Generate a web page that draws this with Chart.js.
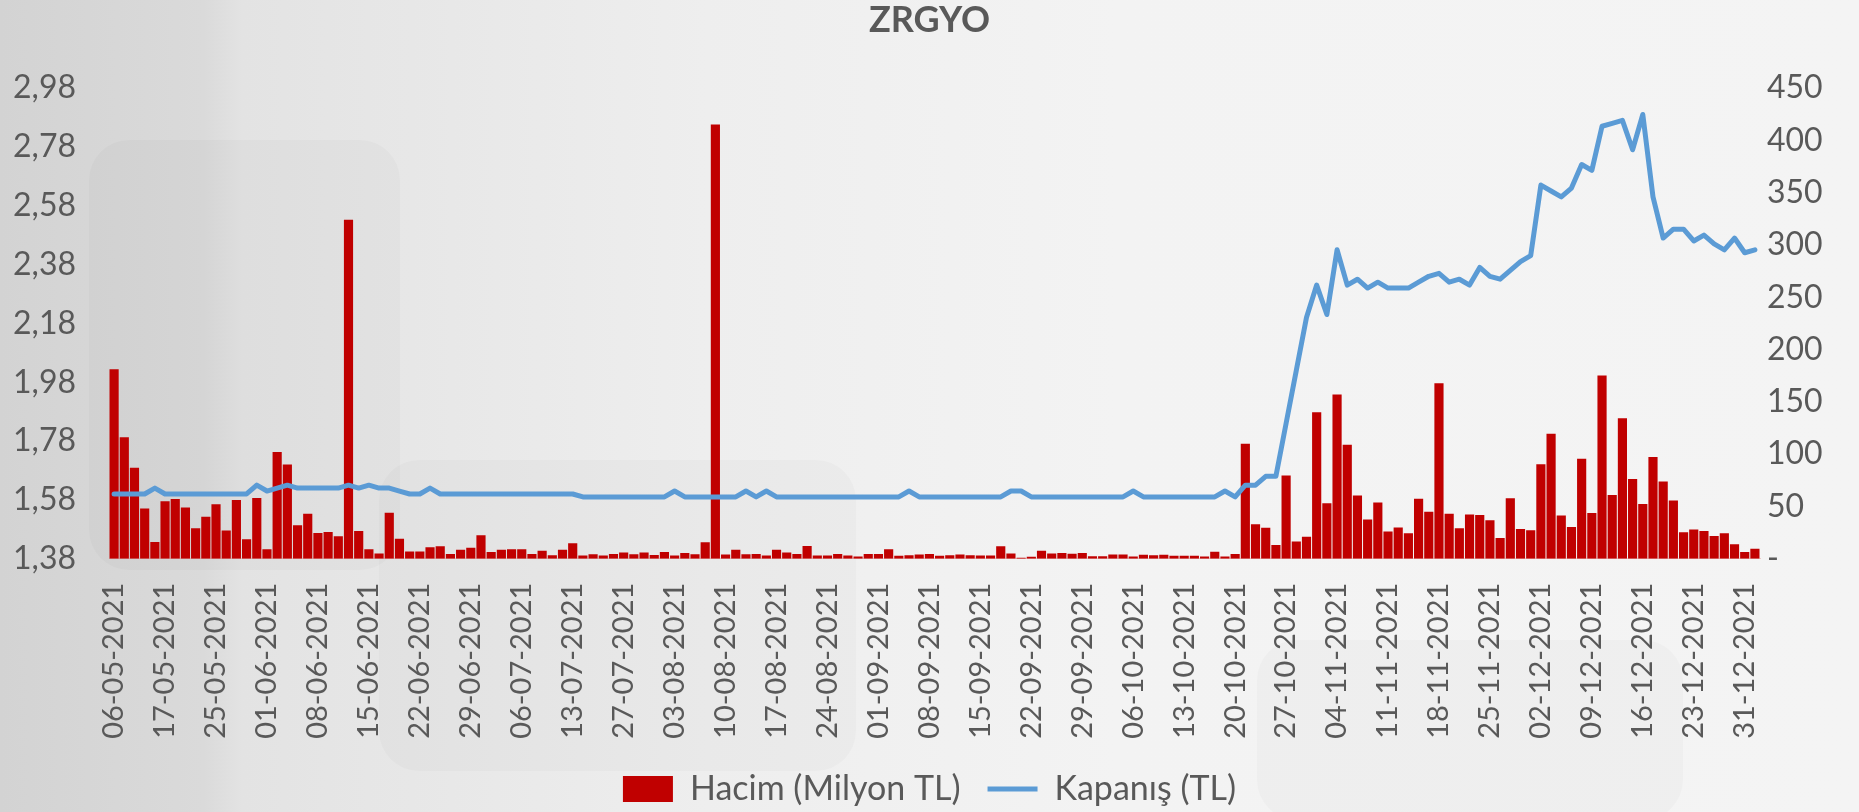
<!DOCTYPE html>
<html>
<head>
<meta charset="utf-8">
<script src="https://cdn.jsdelivr.net/npm/chart.js@4/dist/chart.umd.min.js"></script>
<style>
  html, body { margin: 0; padding: 0; }
  #wrap { width: 1859px; height: 812px; position: relative; }
</style>
</head>
<body>
<div id="wrap"><canvas id="zrgyoChart"></canvas></div>
<script>
// trading days (dd-mm-2021)
const dates = [].concat(
    '06 07 10 11 12 17 18 20 21 24 25 26 27 28 31'.split(' ').map(d => d + '-05-2021'),
    '01 02 03 04 07 08 09 10 11 14 15 16 17 18 21 22 23 24 25 28 29 30'.split(' ').map(d => d + '-06-2021'),
    '01 02 05 06 07 08 09 12 13 14 16 19 26 27 28 29 30'.split(' ').map(d => d + '-07-2021'),
    '02 03 04 05 06 09 10 11 12 13 16 17 18 19 20 23 24 25 26 27 31'.split(' ').map(d => d + '-08-2021'),
    '01 02 03 06 07 08 09 10 13 14 15 16 17 20 21 22 23 24 27 28 29 30'.split(' ').map(d => d + '-09-2021'),
    '01 04 05 06 07 08 11 12 13 14 15 18 19 20 21 22 25 26 27 28'.split(' ').map(d => d + '-10-2021'),
    '01 02 03 04 05 08 09 10 11 12 15 16 17 18 19 22 23 24 25 26 29 30'.split(' ').map(d => d + '-11-2021'),
    '01 02 03 06 07 08 09 10 13 14 15 16 17 20 21 22 23 24 27 28 29 30 31'.split(' ').map(d => d + '-12-2021')
);

// x labels as printed on the chart (every 5th day)
const tickLabels = ['06-05-2021', '17-05-2021', '25-05-2021', '01-06-2021', '08-06-2021', '15-06-2021',
    '22-06-2021', '29-06-2021', '06-07-2021', '13-07-2021', '27-07-2021', '03-08-2021', '10-08-2021',
    '17-08-2021', '24-08-2021', '01-09-2021', '08-09-2021', '15-09-2021', '22-09-2021', '29-09-2021',
    '06-10-2021', '13-10-2021', '20-10-2021', '27-10-2021', '04-11-2021', '11-11-2021', '18-11-2021',
    '25-11-2021', '02-12-2021', '09-12-2021', '16-12-2021', '23-12-2021', '31-12-2021'];

// Hacim (Milyon TL) - right axis
const volume = [
    181, 116, 87, 48, 16, 55, 57, 49, 29, 40,
    52, 27, 56, 18.5, 58, 9, 102, 90, 32, 43,
    24.5, 25.5, 21.5, 324, 26.5, 9, 5, 44, 19, 7,
    7, 11, 12, 4.5, 8.5, 10.5, 22.5, 6.5, 8.5, 9,
    9, 4.5, 7.5, 3.2, 8.5, 14.7, 3, 4.2, 3, 4.5,
    6, 4.2, 6, 3.5, 6.5, 3, 5.5, 4.2, 15.7, 415,
    4, 8.5, 4.2, 4.5, 3, 8.5, 6, 4.5, 12.2, 3,
    3, 4.4, 3, 2.1, 4.4, 4.4, 9, 2.8, 3.4, 4,
    4.4, 2.8, 3.4, 4, 3.4, 3, 3, 11.8, 5, 1,
    1.8, 7.5, 5, 5.4, 4.7, 5.4, 2.4, 2.4, 4, 4,
    2, 3.7, 3.4, 3.7, 2.8, 2.8, 2.8, 2, 6.7, 2,
    4.5, 110, 33, 29.5, 13.2, 79.5, 16.5, 21, 140, 53,
    157, 109, 60.5, 37.5, 53.7, 26, 29.8, 24.4, 57.2, 45,
    167.8, 43, 29.2, 42.2, 41.8, 36.8, 19.9, 57.8, 28.5, 27.2,
    90.4, 119.4, 41.3, 30.4, 95.5, 43.8, 175.1, 60.8, 134.3, 76.3,
    52.4, 97.3, 73.8, 55.7, 25.4, 27.9, 26.6, 21.6, 24.4, 13.8,
    6.5, 9.4
];

// Kapanış (TL) - left axis
const close = [
    1.60, 1.60, 1.60, 1.60, 1.62, 1.60, 1.60, 1.60, 1.60, 1.60,
    1.60, 1.60, 1.60, 1.60, 1.63, 1.61, 1.62, 1.63, 1.62, 1.62,
    1.62, 1.62, 1.62, 1.63, 1.62, 1.63, 1.62, 1.62, 1.61, 1.60,
    1.60, 1.62, 1.60, 1.60, 1.60, 1.60, 1.60, 1.60, 1.60, 1.60,
    1.60, 1.60, 1.60, 1.60, 1.60, 1.60, 1.59, 1.59, 1.59, 1.59,
    1.59, 1.59, 1.59, 1.59, 1.59, 1.61, 1.59, 1.59, 1.59, 1.59,
    1.59, 1.59, 1.61, 1.59, 1.61, 1.59, 1.59, 1.59, 1.59, 1.59,
    1.59, 1.59, 1.59, 1.59, 1.59, 1.59, 1.59, 1.59, 1.61, 1.59,
    1.59, 1.59, 1.59, 1.59, 1.59, 1.59, 1.59, 1.59, 1.61, 1.61,
    1.59, 1.59, 1.59, 1.59, 1.59, 1.59, 1.59, 1.59, 1.59, 1.59,
    1.61, 1.59, 1.59, 1.59, 1.59, 1.59, 1.59, 1.59, 1.59, 1.61,
    1.59, 1.63, 1.63, 1.66, 1.66, 1.84, 2.02, 2.20, 2.31, 2.21,
    2.43, 2.31, 2.33, 2.30, 2.32, 2.30, 2.30, 2.30, 2.32, 2.34,
    2.35, 2.32, 2.33, 2.31, 2.37, 2.34, 2.33, 2.36, 2.39, 2.41,
    2.65, 2.63, 2.61, 2.64, 2.72, 2.70, 2.85, 2.86, 2.87, 2.77,
    2.89, 2.61, 2.47, 2.50, 2.50, 2.46, 2.48, 2.45, 2.43, 2.47,
    2.42, 2.43
];

const leftTicks = [1.38, 1.58, 1.78, 1.98, 2.18, 2.38, 2.58, 2.78, 2.98];
const rightTicks = [0, 50, 100, 150, 200, 250, 300, 350, 400, 450];

const textColor = '#595959';
const tickFont = { family: 'Lato', size: 32 };
const dateFont = { family: 'Lato', size: 29 };
const padBottom = -4;

// grey slide background with a few soft panels
const backdrop = {
    id: 'backdrop',
    beforeDraw(chart) {
        const { ctx, width, height } = chart;
        ctx.save();
        const g = ctx.createLinearGradient(0, 0, width, 0);
        g.addColorStop(0, '#d3d3d3');
        g.addColorStop(0.11, '#dadada');
        g.addColorStop(0.13, '#e3e3e3');
        g.addColorStop(0.38, '#eeeeee');
        g.addColorStop(0.6, '#f3f3f3');
        g.addColorStop(1, '#f4f4f4');
        ctx.fillStyle = g;
        ctx.fillRect(0, 0, width, height);
        ctx.fillStyle = 'rgba(0,0,0,0.02)';
        [[89, 140, 311, 430], [379, 460, 477, 311], [1257, 640, 426, 180]].forEach(([x, y, w, h]) => {
            ctx.beginPath();
            ctx.roundRect(x, y, w, h, 40);
            ctx.fill();
        });
        ctx.restore();
    }
};

const ctx = document.getElementById('zrgyoChart').getContext('2d');
new Chart(ctx, {
    data: {
        labels: dates,
        datasets: [{
            type: 'bar',
            label: 'Hacim (Milyon TL)',
            data: volume,
            yAxisID: 'y1',
            backgroundColor: '#c00000',
            borderWidth: 0,
            barPercentage: 0.9,
            categoryPercentage: 1,
            order: 2,
        }, {
            type: 'line',
            label: 'Kapanış (TL)',
            data: close,
            yAxisID: 'y',
            borderColor: '#5b9bd5',
            backgroundColor: '#5b9bd5',
            borderWidth: 5,
            pointRadius: 0,
            tension: 0,
            borderJoinStyle: 'round',
            borderCapStyle: 'round',
            order: 1,
        }],
    },
    options: {
        responsive: true,
        maintainAspectRatio: false,
        animation: false,
        layout: { padding: { top: 0, left: 0, right: 0, bottom: padBottom } },
        plugins: {
            title: {
                display: true,
                text: 'ZRGYO',
                color: textColor,
                font: { family: 'Lato', size: 36, weight: 'bold', lineHeight: 1 },
                padding: { top: 2, bottom: 50 },
            },
            legend: {
                position: 'bottom',
                labels: {
                    usePointStyle: true,
                    pointStyleWidth: 50,
                    boxHeight: 26,
                    padding: 27,
                    color: textColor,
                    font: { family: 'Lato', size: 34 },
                    generateLabels: chart => chart.data.datasets.map((ds, i) => ({
                        text: ds.label,
                        datasetIndex: i,
                        fontColor: textColor,
                        fillStyle: ds.backgroundColor,
                        strokeStyle: i === 0 ? ds.backgroundColor : ds.borderColor,
                        lineWidth: i === 0 ? 0 : 5,
                        pointStyle: i === 0 ? 'rect' : 'line',
                        hidden: false,
                    })),
                },
            },
            tooltip: { enabled: false },
        },
        scales: {
            x: {
                offset: true,
                grid: { display: false, drawTicks: false },
                border: { display: true, color: 'rgba(215,120,120,0.35)', dash: [8, 3], width: 1 },
                ticks: {
                    autoSkip: false,
                    minRotation: 90,
                    maxRotation: 90,
                    padding: 24,
                    color: textColor,
                    font: dateFont,
                    callback: (v, i) => (i % 5 === 0 ? tickLabels[i / 5] : null),
                },
                afterFit: s => { s.height = 812 - padBottom - 558.7 - (s.chart.legend ? s.chart.legend.height : 57); },
            },
            y: {
                position: 'left',
                min: 1.38,
                max: 2.98,
                grid: { display: false, drawTicks: false },
                border: { display: false },
                ticks: {
                    padding: 33,
                    color: textColor,
                    font: tickFont,
                    callback: v => v.toFixed(2).replace('.', ','),
                },
                afterBuildTicks: s => { s.ticks = leftTicks.map(v => ({ value: v })); },
                afterFit: s => { s.width = 109; },
            },
            y1: {
                position: 'right',
                min: 0,
                max: 450,
                grid: { display: false, drawTicks: false },
                border: { display: false },
                ticks: {
                    padding: 7,
                    color: textColor,
                    font: tickFont,
                    callback: v => (v === 0 ? '-' : v),
                },
                afterBuildTicks: s => { s.ticks = rightTicks.map(v => ({ value: v })); },
                afterFit: s => { s.width = 99; },
            },
        },
    },
    plugins: [backdrop],
});
</script>
</body>
</html>
